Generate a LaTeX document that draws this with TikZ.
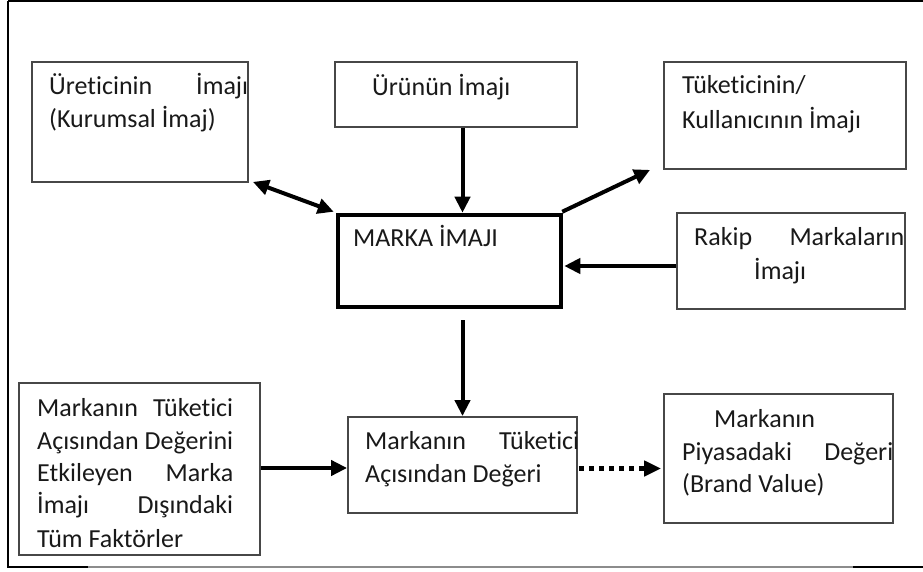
\documentclass[tikz,border=0pt]{standalone}
\usepackage{fontspec}
\setmainfont[Ligatures={NoCommon}]{Carlito}
\usetikzlibrary{arrows.meta,calc}

\begin{document}
\begin{tikzpicture}[x=1pt,y=-1pt,
  box/.style={draw=black!72,line width=1.8pt,inner sep=0pt},
  bigbox/.style={draw=black,line width=4.5pt,inner sep=0pt},
  txt/.style={anchor=base west,inner sep=0pt,font=\fontsize{26}{32}\selectfont,text=black!90},
  arr/.style={line width=4pt,-{Triangle[length=16pt,width=15pt]}},
  dotarr/.style={line width=5pt,dash pattern=on 5pt off 5pt,-{Triangle[length=17pt,width=15pt]}},
]
\useasboundingbox (0,0) rectangle (923,572);

% outer frame
\draw[line width=1.5pt] (8,1) -- (930,1);
\draw[line width=1.5pt] (8,1) -- (8,567) -- (88,567);
\draw[line width=1.5pt,black!45] (88,567) -- (853,567);
\draw[line width=1.5pt] (853,567) -- (930,567);

% boxes
\node[box,minimum width=216pt,minimum height=120pt] (ure) at (140,122) {};
\node[box,minimum width=242pt,minimum height=65pt] (urun) at (456,94.5) {};
\node[box,minimum width=242pt,minimum height=107pt] (tuk) at (785,115.5) {};
\node[bigbox,minimum width=223pt,minimum height=92pt] (marka) at (449.5,261) {};
\node[box,minimum width=228pt,minimum height=96pt] (rakip) at (791,261) {};
\node[box,minimum width=241pt,minimum height=172pt] (fact) at (139.5,469) {};
\node[box,minimum width=229pt,minimum height=96pt] (deg) at (462.5,465) {};
\node[box,minimum width=229pt,minimum height=129pt] (piy) at (778.5,458.5) {};

% texts
\node[txt] (t1a) at (49,95) {\hbox to 199pt{Üreticinin\hfill İmajı}};
\node[txt] (t1b) at (49,128) {(Kurumsal İmaj)};
\node[txt] (t2) at (372,96) {Ürünün İmajı};
\node[txt] (t3a) at (682,94) {Tüketicinin/};
\node[txt] (t3b) at (682,129) {Kullanıcının İmajı};
\node[txt] (t4) at (353,246) {MARKA İMAJI};
\node[txt] (t5a) at (694,245) {\hbox to 210pt{Rakip\hfill Markaların}};
\node[txt] (t5b) at (754,279) {İmajı};
\node[txt] (t6a) at (37,416) {\hbox to 196pt{Markanın\hfill Tüketici}};
\node[txt] (t6b) at (37,449) {\hbox to 196pt{Açısından\hfill Değerini}};
\node[txt] (t6c) at (37,481) {\hbox to 196pt{Etkileyen\hfill Marka}};
\node[txt] (t6d) at (37,513) {\hbox to 196pt{İmajı\hfill Dışındaki}};
\node[txt] (t6e) at (37,547) {Tüm Faktörler};
\node[txt] (t7a) at (365,449) {\hbox to 214pt{Markanın\hfill Tüketici}};
\node[txt] (t7b) at (365,482) {Açısından Değeri};
\node[txt] (t8a) at (714,427) {Markanın};
\node[txt] (t8b) at (682,460) {\hbox to 211pt{Piyasadaki\hfill Değeri}};
\node[txt] (t8c) at (682,492) {(Brand Value)};

% connectors
\draw[line width=4pt,{Triangle[length=16pt,width=15pt]}-{Triangle[length=16pt,width=15pt]}]
  ($(ure.south east)+(4,-1)$) -- ($(marka.north west)+(-2,-1)$);
\draw[arr] ($(urun.south)+(6.5,0)$) -- ($(marka.north)+(13,0)$);
\draw[arr] ($(marka.north east)+(-1,-1)$) -- ($(tuk.south west)+(-13,0)$);
\draw[arr] ($(rakip.west)+(0,5)$) -- ($(marka.east)+(1,5)$);
\draw[arr] ($(marka.south)+(13,11)$) -- (deg.north);
\draw[arr] ($(fact.east)+(0,-1)$) coordinate (f0) -- (f0 -| deg.west);
\draw[dotarr] ($(deg.east)+(1,3.5)$) coordinate (d0) -- ($(d0 -| piy.west)+(-2,0)$);
\end{tikzpicture}
\end{document}
